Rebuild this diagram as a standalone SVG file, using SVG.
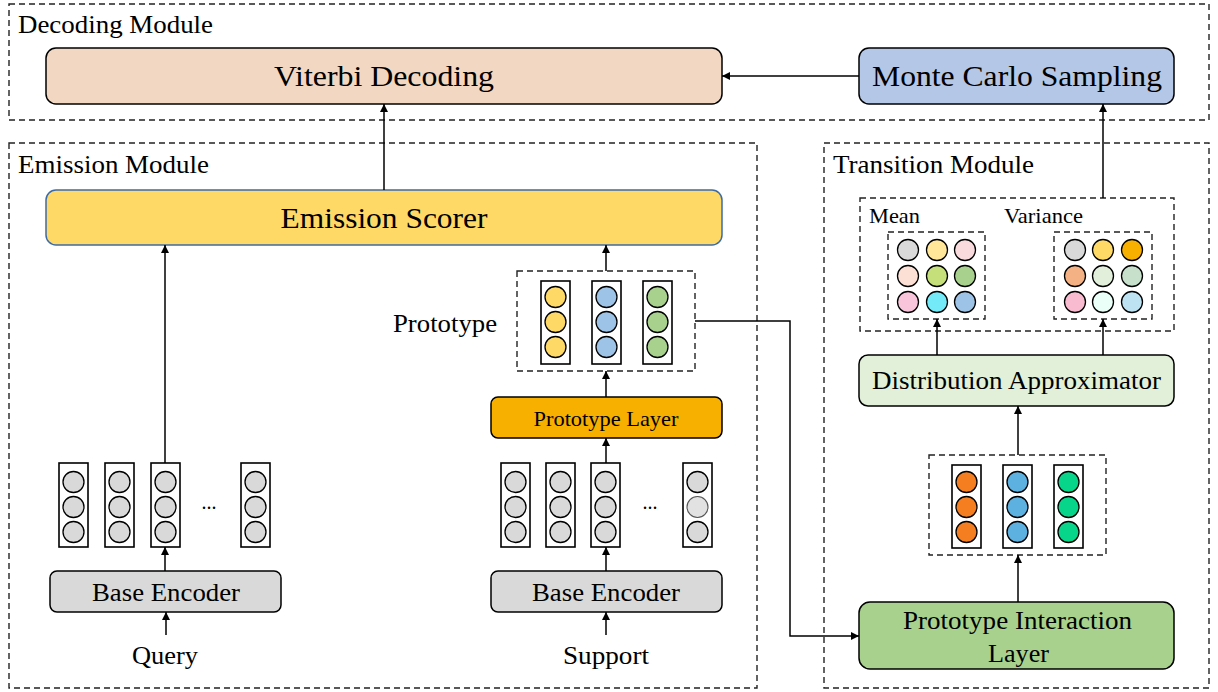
<svg xmlns="http://www.w3.org/2000/svg" width="1218" height="692" viewBox="0 0 1218 692">
<defs>
<style>
text{font-family:"Liberation Serif","Times New Roman",serif;fill:#000}
.mod{fill:none;stroke:#222;stroke-width:1.4;stroke-dasharray:6 4}
.node{stroke:#000;stroke-width:1.5}
.col{fill:#fff;stroke:#000;stroke-width:1.6}
.c{stroke:#000;stroke-width:1.3}
.g{fill:#D9D9D9}
.conn{fill:none;stroke:#000;stroke-width:1.5;marker-end:url(#ah)}
.ttl{font-size:25px}
.mid{text-anchor:middle}
</style>
<marker id="ah" viewBox="0 0 10 10" refX="10" refY="5" markerWidth="9" markerHeight="8" markerUnits="userSpaceOnUse" orient="auto"><path d="M0,0 L10,5 L0,10 z" fill="#000"/></marker>
</defs>
<rect width="1218" height="692" fill="#fff"/>

<g id="decoding-module">
<rect class="mod" x="9" y="4" width="1200" height="116"/>
<text class="ttl" x="18" y="33" textLength="195" lengthAdjust="spacingAndGlyphs">Decoding Module</text>
</g>
<g id="emission-module">
<rect class="mod" x="9" y="143" width="748" height="545"/>
<text class="ttl" x="18" y="173" textLength="191" lengthAdjust="spacingAndGlyphs">Emission Module</text>
</g>
<g id="transition-module">
<rect class="mod" x="824" y="143" width="385" height="545"/>
<text class="ttl" x="833" y="173" textLength="201" lengthAdjust="spacingAndGlyphs">Transition Module</text>
</g>

<g id="viterbi">
<rect class="node" x="46" y="48" width="676" height="56" rx="10" fill="#F2D7C3"/>
<text class="mid" x="384" y="86" font-size="30" textLength="220" lengthAdjust="spacingAndGlyphs">Viterbi Decoding</text>
</g>
<g id="monte-carlo">
<rect class="node" x="859" y="48" width="315" height="56" rx="10" fill="#B4C7E7"/>
<text class="mid" x="1017" y="86" font-size="30" textLength="290" lengthAdjust="spacingAndGlyphs">Monte Carlo Sampling</text>
</g>
<g id="emission-scorer">
<rect x="46" y="190" width="676" height="55" rx="10" fill="#FFD966" stroke="#3D6BA8" stroke-width="1.5"/>
<text class="mid" x="384" y="228" font-size="30" textLength="207" lengthAdjust="spacingAndGlyphs">Emission Scorer</text>
</g>

<g id="prototype">
<rect class="mod" x="517" y="271" width="178" height="100"/>
<text x="393" y="332" font-size="25" textLength="104" lengthAdjust="spacingAndGlyphs">Prototype</text>
<rect class="col" x="541" y="281" width="29" height="83"/>
<rect class="col" x="592" y="281" width="29" height="83"/>
<rect class="col" x="643" y="281" width="29" height="83"/>
<g class="c" fill="#FFD966"><circle cx="555.5" cy="297" r="10.5"/><circle cx="555.5" cy="322" r="10.5"/><circle cx="555.5" cy="347" r="10.5"/></g>
<g class="c" fill="#9DC3E6"><circle cx="606.5" cy="297" r="10.5"/><circle cx="606.5" cy="322" r="10.5"/><circle cx="606.5" cy="347" r="10.5"/></g>
<g class="c" fill="#A9D18E"><circle cx="657.5" cy="297" r="10.5"/><circle cx="657.5" cy="322" r="10.5"/><circle cx="657.5" cy="347" r="10.5"/></g>
</g>

<g id="prototype-layer">
<rect class="node" x="491" y="397" width="231" height="41" rx="7" fill="#F7B000"/>
<text class="mid" x="606" y="426" font-size="22" textLength="145" lengthAdjust="spacingAndGlyphs">Prototype Layer</text>
</g>

<g id="query-embeddings">
<rect class="col" x="59" y="463" width="29" height="84"/>
<rect class="col" x="105" y="463" width="29" height="84"/>
<rect class="col" x="151" y="463" width="29" height="84"/>
<rect class="col" x="241" y="463" width="29" height="84"/>
<g class="c g">
<circle cx="73.5" cy="482" r="10.5"/><circle cx="73.5" cy="507" r="10.5"/><circle cx="73.5" cy="532" r="10.5"/>
<circle cx="119.5" cy="482" r="10.5"/><circle cx="119.5" cy="507" r="10.5"/><circle cx="119.5" cy="532" r="10.5"/>
<circle cx="165.5" cy="482" r="10.5"/><circle cx="165.5" cy="507" r="10.5"/><circle cx="165.5" cy="532" r="10.5"/>
<circle cx="255.5" cy="482" r="10.5"/><circle cx="255.5" cy="507" r="10.5"/><circle cx="255.5" cy="532" r="10.5"/>
</g>
<text class="mid" x="209" y="509" font-size="20">...</text>
</g>

<g id="support-embeddings">
<rect class="col" x="501" y="463" width="29" height="84"/>
<rect class="col" x="546" y="463" width="29" height="84"/>
<rect class="col" x="591" y="463" width="29" height="84"/>
<rect class="col" x="683" y="463" width="29" height="84"/>
<g class="c g">
<circle cx="515.5" cy="482" r="10.5"/><circle cx="515.5" cy="507" r="10.5"/><circle cx="515.5" cy="532" r="10.5"/>
<circle cx="560.5" cy="482" r="10.5"/><circle cx="560.5" cy="507" r="10.5"/><circle cx="560.5" cy="532" r="10.5"/>
<circle cx="605.5" cy="482" r="10.5"/><circle cx="605.5" cy="507" r="10.5"/><circle cx="605.5" cy="532" r="10.5"/>
<circle cx="697.5" cy="482" r="10.5"/><circle cx="697.5" cy="532" r="10.5"/>
</g>
<circle cx="697.5" cy="507" r="10.5" fill="#E2E2E2" stroke="#555" stroke-width="1.1"/>
<text class="mid" x="650" y="509" font-size="20">...</text>
</g>

<g id="query-encoder">
<rect class="node" x="50" y="571" width="231" height="41" rx="7" fill="#D9D9D9"/>
<text class="mid" x="166" y="601" font-size="25" textLength="148" lengthAdjust="spacingAndGlyphs">Base Encoder</text>
</g>
<g id="support-encoder">
<rect class="node" x="491" y="571" width="231" height="41" rx="7" fill="#D9D9D9"/>
<text class="mid" x="606" y="601" font-size="25" textLength="148" lengthAdjust="spacingAndGlyphs">Base Encoder</text>
</g>
<g id="query"><text class="mid" x="165" y="664" font-size="25" textLength="66" lengthAdjust="spacingAndGlyphs">Query</text></g>
<g id="support"><text class="mid" x="606" y="664" font-size="25" textLength="86" lengthAdjust="spacingAndGlyphs">Support</text></g>

<g id="mean-variance">
<rect class="mod" x="860" y="198" width="314" height="133"/>
<text x="869" y="223" font-size="21" textLength="51" lengthAdjust="spacingAndGlyphs">Mean</text>
<text x="1004" y="223" font-size="21" textLength="79" lengthAdjust="spacingAndGlyphs">Variance</text>
<rect class="mod" x="888" y="232" width="97" height="87"/>
<rect class="mod" x="1054" y="232" width="98" height="87"/>
<g class="c">
<circle cx="908" cy="250" r="10.5" fill="#D9D9D9"/><circle cx="937" cy="250" r="10.5" fill="#FFE699"/><circle cx="965" cy="250" r="10.5" fill="#FADBDD"/>
<circle cx="908" cy="276" r="10.5" fill="#FCE0D6"/><circle cx="937" cy="276" r="10.5" fill="#C5E07A"/><circle cx="965" cy="276" r="10.5" fill="#A9D18E"/>
<circle cx="908" cy="302" r="10.5" fill="#F9C5DA"/><circle cx="937" cy="302" r="10.5" fill="#74EAF9"/><circle cx="965" cy="302" r="10.5" fill="#9DC3E6"/>
<circle cx="1075" cy="250" r="10.5" fill="#D9D9D9"/><circle cx="1103" cy="250" r="10.5" fill="#FFD966"/><circle cx="1132" cy="250" r="10.5" fill="#F7B000"/>
<circle cx="1075" cy="276" r="10.5" fill="#F4B183"/><circle cx="1103" cy="276" r="10.5" fill="#E2EFDA"/><circle cx="1132" cy="276" r="10.5" fill="#C6E0CB"/>
<circle cx="1075" cy="302" r="10.5" fill="#F8BBD0"/><circle cx="1103" cy="302" r="10.5" fill="#E9FFF8"/><circle cx="1132" cy="302" r="10.5" fill="#BDE3F2"/>
</g>
</g>

<g id="distribution-approximator">
<rect class="node" x="859" y="355" width="315" height="51" rx="9" fill="#E2F0D9"/>
<text class="mid" x="1016.5" y="389" font-size="25" textLength="289" lengthAdjust="spacingAndGlyphs">Distribution Approximator</text>
</g>

<g id="transition-embeddings">
<rect class="mod" x="929" y="455" width="177" height="100"/>
<rect class="col" x="952" y="465" width="29" height="83"/>
<rect class="col" x="1003" y="465" width="29" height="83"/>
<rect class="col" x="1054" y="465" width="29" height="83"/>
<g class="c" fill="#F57E20"><circle cx="966.5" cy="482" r="10.5"/><circle cx="966.5" cy="507" r="10.5"/><circle cx="966.5" cy="532" r="10.5"/></g>
<g class="c" fill="#5DB1E1"><circle cx="1017.5" cy="482" r="10.5"/><circle cx="1017.5" cy="507" r="10.5"/><circle cx="1017.5" cy="532" r="10.5"/></g>
<g class="c" fill="#07D68A"><circle cx="1068.5" cy="482" r="10.5"/><circle cx="1068.5" cy="507" r="10.5"/><circle cx="1068.5" cy="532" r="10.5"/></g>
</g>

<g id="prototype-interaction-layer">
<rect class="node" x="859" y="602" width="315" height="67" rx="11" fill="#A9D18E"/>
<text class="mid" x="1017.5" y="629" font-size="25" textLength="229" lengthAdjust="spacingAndGlyphs">Prototype Interaction</text>
<text class="mid" x="1018.5" y="662" font-size="25" textLength="61" lengthAdjust="spacingAndGlyphs">Layer</text>
</g>

<g id="connectors">
<path class="conn" d="M859,76 H722"/>
<path class="conn" d="M384,190 V104"/>
<path class="conn" d="M165,463 V245"/>
<path class="conn" d="M606,271 V245"/>
<path class="conn" d="M606,397 V371"/>
<path class="conn" d="M606,463 V438"/>
<path class="conn" d="M165,571 V547"/>
<path class="conn" d="M606,571 V547"/>
<path class="conn" d="M166,635 V612"/>
<path class="conn" d="M606,635 V612"/>
<path class="conn" d="M695,321 H790 V636 H859"/>
<path class="conn" d="M1018,602 V555"/>
<path class="conn" d="M1018,455 V406"/>
<path class="conn" d="M937,355 V319"/>
<path class="conn" d="M1103,355 V319"/>
<path class="conn" d="M1103,198 V104"/>
</g>
</svg>
